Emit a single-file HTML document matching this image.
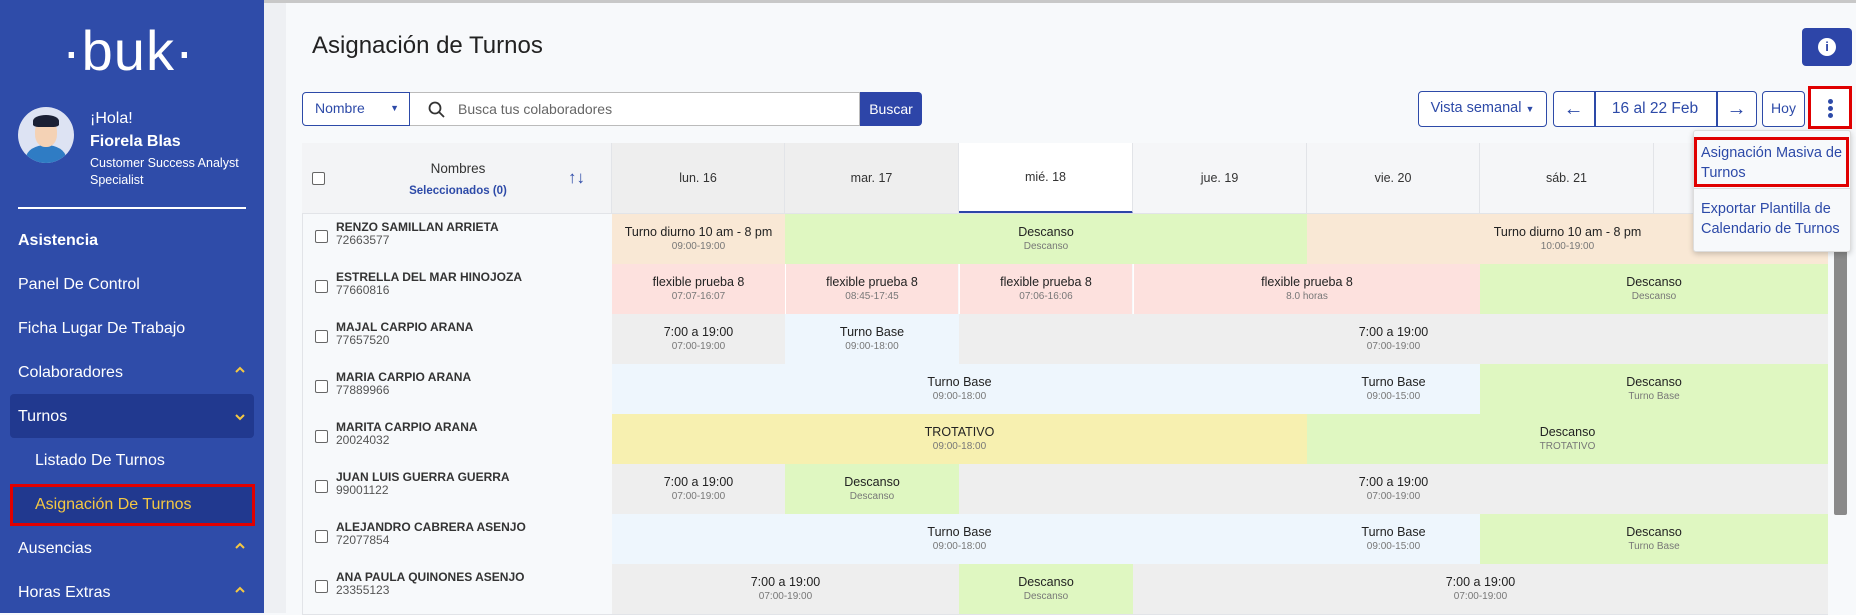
<!DOCTYPE html>
<html><head><meta charset="utf-8"><style>
*{box-sizing:border-box;margin:0;padding:0}
body{width:1856px;height:613px;overflow:hidden;background:#f7f9fb;font-family:"Liberation Sans",Arial,sans-serif;position:relative;color:#222}
.a{position:absolute}
.sb{left:0;top:0;width:264px;height:613px;background:#2f4ca9;color:#fff}
.nav{position:absolute;left:18px;font-size:16px;color:#fff}
.car{position:absolute;left:234px}
.cell{position:absolute;height:50px;text-align:center;font-size:12.5px;color:#222;padding-top:11px;line-height:15px}
.cell small{display:block;font-size:10px;color:#777;line-height:14px}
.nm{position:absolute;left:302px;width:310px;height:50px}
.nm .cb{position:absolute;left:13px;top:16px;width:13px;height:13px;border:1.5px solid #666;border-radius:2px;background:#fff}
.nm .t{position:absolute;left:34px;top:7px;font-size:12px;font-weight:bold;color:#333;line-height:13px}
.nm .t span{display:block;font-weight:normal;color:#555;font-size:12px}
.hd{position:absolute;top:143px;height:71px;font-size:12.5px;text-align:center;line-height:71px;color:#333;border-right:1px solid #e2e4e8}
.btn{position:absolute;border:1.5px solid #2d4aa8;border-radius:4px;color:#2d4aa8;background:#fff;font-size:15px;text-align:center}
</style></head><body>
<div class="a" style="left:264px;top:0;width:22px;height:613px;background:#eef0f3"></div>
<div class="a" style="left:264px;top:0;width:1592px;height:3px;background:#c8c8c8"></div>

<div class="a sb">
 <div class="a" style="left:62px;top:18px;font-size:56px;letter-spacing:1px;font-weight:300">·buk·</div>
 <div class="a" style="left:18px;top:107px;width:56px;height:56px;border-radius:50%;background:#dde3f3;overflow:hidden">
  <div class="a" style="left:8px;top:38px;width:40px;height:26px;border-radius:50% 50% 0 0;background:#2f7cc4"></div>
  <div class="a" style="left:17px;top:12px;width:22px;height:28px;border-radius:45%;background:#f4d2b5"></div>
  <div class="a" style="left:15px;top:8px;width:26px;height:12px;border-radius:50% 50% 20% 20%;background:#1a2035"></div>
 </div>
 <div class="a" style="left:90px;top:110px;font-size:16px">¡Hola!</div>
 <div class="a" style="left:90px;top:133px;font-size:16px;font-weight:bold">Fiorela Blas</div>
 <div class="a" style="left:90px;top:155px;font-size:12.5px;line-height:17px">Customer Success Analyst<br>Specialist</div>
 <div class="a" style="left:18px;top:207px;width:228px;height:1.5px;background:#fff"></div>
 <div class="nav" style="top:232px;font-weight:bold">Asistencia</div>
 <div class="nav" style="top:276px">Panel De Control</div>
 <div class="nav" style="top:320px">Ficha Lugar De Trabajo</div>
 <div class="nav" style="top:364px">Colaboradores</div><svg class="car" style="top:366px" width="12" height="8"><path d="M2 6 L6 2 L10 6" fill="none" stroke="#f5c842" stroke-width="2"/></svg>
 <div class="a" style="left:10px;top:394px;width:244px;height:44px;background:#21398f;border-radius:4px"></div>
 <div class="nav" style="top:408px">Turnos</div><svg class="car" style="top:413px" width="12" height="8"><path d="M2 2 L6 6 L10 2" fill="none" stroke="#f5c842" stroke-width="2"/></svg>
 <div class="nav" style="top:452px;left:35px">Listado De Turnos</div>
 <div class="a" style="left:10px;top:484px;width:245px;height:42px;background:#21398f;border:3px solid #e00000"></div>
 <div class="nav" style="top:496px;left:35px;color:#f5c842">Asignación De Turnos</div>
 <div class="nav" style="top:540px">Ausencias</div><svg class="car" style="top:542px" width="12" height="8"><path d="M2 6 L6 2 L10 6" fill="none" stroke="#f5c842" stroke-width="2"/></svg>
 <div class="nav" style="top:584px">Horas Extras</div><svg class="car" style="top:586px" width="12" height="8"><path d="M2 6 L6 2 L10 6" fill="none" stroke="#f5c842" stroke-width="2"/></svg>
</div>

<div class="a" style="left:312px;top:32px;font-size:24px;color:#222">Asignación de Turnos</div>
<div class="a" style="left:1802px;top:28px;width:50px;height:38px;background:#2d45a8;border-radius:4px"><div class="a" style="left:16px;top:10px;width:18px;height:18px;border-radius:50%;background:#fff;color:#2d45a8;font-weight:bold;font-size:13px;text-align:center;line-height:18px">i</div></div>

<div class="a" style="left:302px;top:92px;width:108px;height:34px;border:1.5px solid #2d4aa8;border-radius:4px 0 0 4px;background:#fff;color:#2d4aa8;font-size:14px;line-height:31px;padding-left:12px">Nombre<span style="position:absolute;right:10px;font-size:9px">▼</span></div>
<div class="a" style="left:410px;top:92px;width:450px;height:34px;border:1px solid #bbb;border-left:none;background:#fff;font-size:14px;color:#666;line-height:32px;padding-left:48px">Busca tus colaboradores
 <svg class="a" style="left:18px;top:8px" width="18" height="18"><circle cx="7" cy="7" r="5.5" fill="none" stroke="#333" stroke-width="1.8"/><line x1="11" y1="11" x2="16" y2="16" stroke="#333" stroke-width="1.8"/></svg></div>
<div class="a" style="left:860px;top:92px;width:62px;height:34px;background:#2d45a8;border-radius:0 4px 4px 0;color:#fff;font-size:14px;line-height:34px;text-align:center">Buscar</div>

<div class="btn" style="left:1418px;top:91px;width:129px;height:36px;line-height:33px;font-size:14.5px">Vista semanal <span style="font-size:9px">▼</span></div>
<div class="btn" style="left:1553px;top:91px;width:204px;height:36px"></div>
<div class="a" style="left:1594px;top:92px;width:1.5px;height:34px;background:#2d4aa8"></div>
<div class="a" style="left:1716px;top:92px;width:1.5px;height:34px;background:#2d4aa8"></div>
<div class="a" style="left:1553px;top:91px;width:41px;height:36px;text-align:center;line-height:36px;color:#2d4aa8;font-size:20px">←</div>
<div class="a" style="left:1594px;top:91px;width:122px;height:36px;text-align:center;line-height:36px;color:#2d4aa8;font-size:15.5px">16 al 22 Feb</div>
<div class="a" style="left:1716px;top:91px;width:41px;height:36px;text-align:center;line-height:36px;color:#2d4aa8;font-size:20px">→</div>
<div class="btn" style="left:1762px;top:91px;width:43px;height:36px;line-height:33px;font-size:14px">Hoy</div>
<div class="a" style="left:1808px;top:86px;width:44px;height:43px;border:3px solid #e00000;background:#fff"></div>
<div class="a" style="left:1828px;top:99px;width:5px;height:5px;border-radius:50%;background:#2d4aa8;box-shadow:0 7px 0 #2d4aa8,0 14px 0 #2d4aa8"></div>

<div class="a" style="left:302px;top:143px;width:1526px;height:472px;border:1px solid #e2e4e8;background:#f7f9fb"></div>
<div class="hd" style="left:302px;width:310px;background:#f3f4f6"></div>
<div class="a" style="left:312px;top:172px;width:13px;height:13px;border:1.5px solid #666;border-radius:2px;background:#fff"></div>
<div class="a" style="left:400px;top:161px;width:116px;text-align:center;font-size:13.5px;color:#333">Nombres</div>
<div class="a" style="left:380px;top:185px;width:156px;text-align:center;font-size:11.5px;color:#2d4aa8;font-weight:bold">Seleccionados (0)</div>
<div class="a" style="left:568px;top:168px;font-size:17px;color:#2d4aa8">↑↓</div>
<div class="hd" style="left:612px;width:173px;background:#eeeeee">lun. 16</div>
<div class="hd" style="left:785px;width:174px;background:#eeeeee">mar. 17</div>
<div class="hd" style="left:959px;width:174px;background:#fff;border-bottom:3px solid #2d45a8;line-height:68px">mié. 18</div>
<div class="hd" style="left:1133px;width:174px;background:#f5f6f8">jue. 19</div>
<div class="hd" style="left:1307px;width:173px;background:#f5f6f8">vie. 20</div>
<div class="hd" style="left:1480px;width:174px;background:#f5f6f8">sáb. 21</div>
<div class="hd" style="left:1654px;width:174px;background:#f5f6f8">dom. 22</div>
<div class="a" style="left:302px;top:213px;width:1526px;height:1px;background:#e2e4e8"></div>

<div class="nm" style="top:214px"><div class="cb"></div><div class="t">RENZO SAMILLAN ARRIETA<span>72663577</span></div></div>
<div class="nm" style="top:264px"><div class="cb"></div><div class="t">ESTRELLA DEL MAR HINOJOZA<span>77660816</span></div></div>
<div class="nm" style="top:314px"><div class="cb"></div><div class="t">MAJAL CARPIO ARANA<span>77657520</span></div></div>
<div class="nm" style="top:364px"><div class="cb"></div><div class="t">MARIA CARPIO ARANA<span>77889966</span></div></div>
<div class="nm" style="top:414px"><div class="cb"></div><div class="t">MARITA CARPIO ARANA<span>20024032</span></div></div>
<div class="nm" style="top:464px"><div class="cb"></div><div class="t">JUAN LUIS GUERRA GUERRA<span>99001122</span></div></div>
<div class="nm" style="top:514px"><div class="cb"></div><div class="t">ALEJANDRO CABRERA ASENJO<span>72077854</span></div></div>
<div class="nm" style="top:564px"><div class="cb"></div><div class="t">ANA PAULA QUINONES ASENJO<span>23355123</span></div></div>

<div class="cell" style="top:214px;left:612px;width:173px;background:#f9e8d5">Turno diurno 10 am - 8 pm<small>09:00-19:00</small></div>
<div class="cell" style="top:214px;left:785px;width:522px;background:#dff7c1">Descanso<small>Descanso</small></div>
<div class="cell" style="top:214px;left:1307px;width:521px;background:#f9e8d5">Turno diurno 10 am - 8 pm<small>10:00-19:00</small></div>
<div class="cell" style="top:264px;left:612px;width:173px;background:#fde1de">flexible prueba 8<small>07:07-16:07</small></div>
<div class="cell" style="top:264px;left:785px;width:173px;background:#fde1de;border-left:1px solid #fff">flexible prueba 8<small>08:45-17:45</small></div>
<div class="cell" style="top:264px;left:959px;width:173px;background:#fde1de;border-left:1px solid #fff">flexible prueba 8<small>07:06-16:06</small></div>
<div class="cell" style="top:264px;left:1133px;width:347px;background:#fde1de;border-left:1px solid #fff">flexible prueba 8<small>8.0 horas</small></div>
<div class="cell" style="top:264px;left:1480px;width:348px;background:#dff7c1">Descanso<small>Descanso</small></div>
<div class="cell" style="top:314px;left:612px;width:173px;background:#eeeeee">7:00 a 19:00<small>07:00-19:00</small></div>
<div class="cell" style="top:314px;left:785px;width:174px;background:#eef6fd">Turno Base<small>09:00-18:00</small></div>
<div class="cell" style="top:314px;left:959px;width:869px;background:#eeeeee">7:00 a 19:00<small>07:00-19:00</small></div>
<div class="cell" style="top:364px;left:612px;width:695px;background:#eef6fd">Turno Base<small>09:00-18:00</small></div>
<div class="cell" style="top:364px;left:1307px;width:173px;background:#eef6fd">Turno Base<small>09:00-15:00</small></div>
<div class="cell" style="top:364px;left:1480px;width:348px;background:#dff7c1">Descanso<small>Turno Base</small></div>
<div class="cell" style="top:414px;left:612px;width:695px;background:#f7f0b0">TROTATIVO<small>09:00-18:00</small></div>
<div class="cell" style="top:414px;left:1307px;width:521px;background:#dff7c1">Descanso<small>TROTATIVO</small></div>
<div class="cell" style="top:464px;left:612px;width:173px;background:#eeeeee">7:00 a 19:00<small>07:00-19:00</small></div>
<div class="cell" style="top:464px;left:785px;width:174px;background:#dff7c1">Descanso<small>Descanso</small></div>
<div class="cell" style="top:464px;left:959px;width:869px;background:#eeeeee">7:00 a 19:00<small>07:00-19:00</small></div>
<div class="cell" style="top:514px;left:612px;width:695px;background:#eef6fd">Turno Base<small>09:00-18:00</small></div>
<div class="cell" style="top:514px;left:1307px;width:173px;background:#eef6fd">Turno Base<small>09:00-15:00</small></div>
<div class="cell" style="top:514px;left:1480px;width:348px;background:#dff7c1">Descanso<small>Turno Base</small></div>
<div class="cell" style="top:564px;left:612px;width:347px;background:#eeeeee">7:00 a 19:00<small>07:00-19:00</small></div>
<div class="cell" style="top:564px;left:959px;width:174px;background:#dff7c1">Descanso<small>Descanso</small></div>
<div class="cell" style="top:564px;left:1133px;width:695px;background:#eeeeee">7:00 a 19:00<small>07:00-19:00</small></div>

<div class="a" style="left:1834px;top:214px;width:13px;height:301px;background:#8a8a8a;border-radius:2px"></div>

<div class="a" style="left:1693px;top:130px;width:158px;height:122px;background:#f7f9fb;border:1px solid #ddd;border-radius:3px;box-shadow:0 2px 6px rgba(0,0,0,.2)"></div>
<div class="a" style="left:1693px;top:188px;width:158px;height:1px;background:#ddd"></div>
<div class="a" style="left:1694px;top:137px;width:155px;height:50px;border:3px solid #e00000"></div>
<div class="a" style="left:1701px;top:143px;font-size:14.5px;line-height:20px;color:#2d4aa8">Asignación Masiva de<br>Turnos</div>
<div class="a" style="left:1701px;top:199px;font-size:14.5px;line-height:20px;color:#2d4aa8">Exportar Plantilla de<br>Calendario de Turnos</div>
</body></html>
